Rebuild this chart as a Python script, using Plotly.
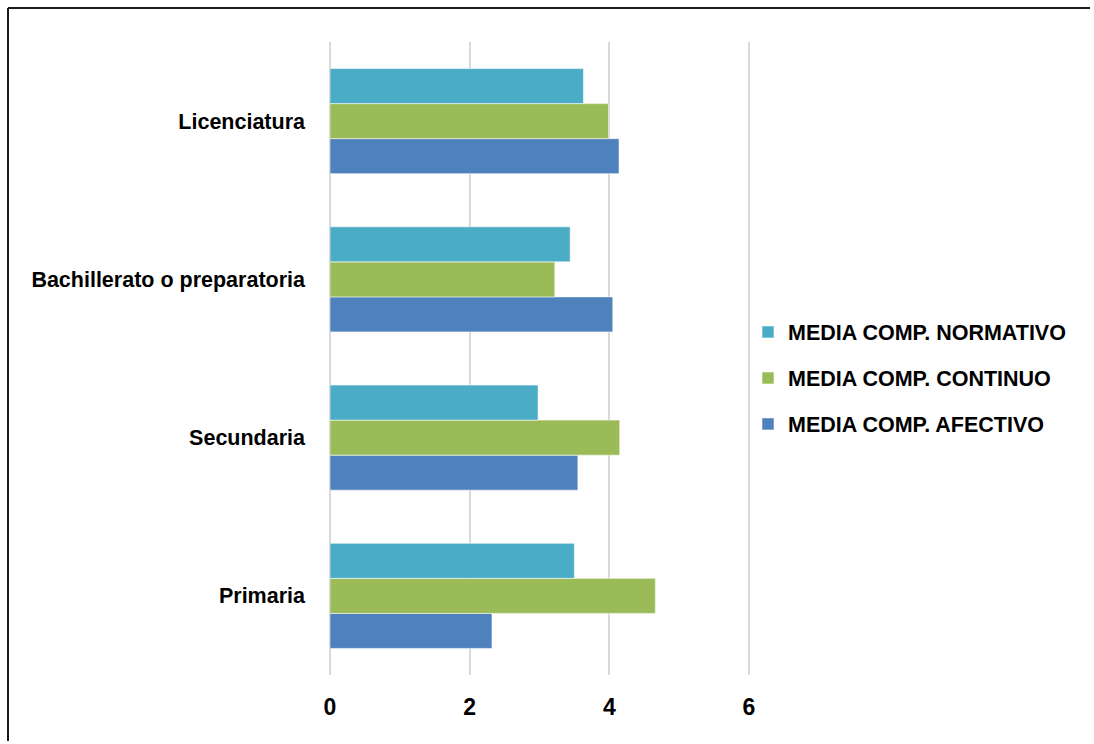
import plotly.graph_objects as go

# Education levels (bottom to top on the category axis)
niveles = ["Primaria", "Secundaria", "Bachillerato o preparatoria", "Licenciatura"]

# Mean scores of each commitment component per level
media_afectivo = [2.32, 3.55, 4.05, 4.14]
media_continuo = [4.66, 4.15, 3.22, 3.99]
media_normativo = [3.50, 2.98, 3.44, 3.63]

x_ticks = [0, 2, 4, 6]
X_MAX = 6.03  # a hair past the last tick so its gridline is kept

FONT = "Liberation Sans, Arial, sans-serif"

W, H = 1094, 744
ML, MT, MB = 330, 42, 69
PW = round(418.7 * X_MAX / 6)
MR = W - ML - PW
PH = H - MT - MB

series = [
    ("MEDIA COMP. AFECTIVO", media_afectivo, "#4F81BD", 3),
    ("MEDIA COMP. CONTINUO", media_continuo, "#9BBB59", 2),
    ("MEDIA COMP. NORMATIVO", media_normativo, "#4BACC6", 1),
]

fig = go.Figure()
for i, (name, vals, color, rank) in enumerate(series):
    fig.add_trace(go.Bar(
        y=niveles, x=vals, name=name, orientation="h",
        marker=dict(color=color, line=dict(color="rgba(255,255,255,0.55)", width=1)),
        legendgroup=f"g{i}", legendrank=rank,
    ))

# outer frame of the chart: top and left edges
frame_left = (8 - ML) / PW
frame_right = (W - 4 - ML) / PW
frame_top = (MT + PH - 8) / PH
frame_bottom = -(MB - 3) / PH
frame_line = dict(color="#1a1a1a", width=2)
fig.add_shape(type="line", xref="paper", yref="paper",
              x0=frame_left, x1=frame_right, y0=frame_top, y1=frame_top, line=frame_line)
fig.add_shape(type="line", xref="paper", yref="paper",
              x0=frame_left, x1=frame_left, y0=frame_bottom, y1=frame_top, line=frame_line)

fig.update_layout(
    width=W, height=H,
    margin=dict(l=ML, r=MR, t=MT, b=MB, autoexpand=False),
    paper_bgcolor="white", plot_bgcolor="white",
    barmode="group", bargap=0.336, bargroupgap=0,
    font=dict(family=FONT, size=22, color="black"),
    xaxis=dict(
        range=[0, X_MAX], tickvals=x_ticks, ticktext=[str(v) for v in x_ticks],
        showgrid=True, gridcolor="#D9D9D9", gridwidth=1.5,
        zeroline=True, zerolinecolor="#D9D9D9", zerolinewidth=1.5,
        showline=False, ticks="",
        ticklabelstandoff=16, automargin=False,
        tickfont=dict(family=FONT, size=23, color="black", weight="bold"),
    ),
    yaxis=dict(
        showgrid=False, zeroline=False, showline=False, ticks="",
        ticklabelstandoff=24, automargin=False,
        tickfont=dict(family=FONT, size=21.5, color="black", weight="bold"),
    ),
    legend=dict(
        x=(748 - ML) / PW, xanchor="left", y=(PH - (378 - MT)) / PH, yanchor="middle",
        traceorder="grouped", tracegroupgap=15,
        font=dict(family=FONT, size=21.5, color="black", weight="bold"),
        bgcolor="rgba(0,0,0,0)",
    ),
    showlegend=True,
)

fig.write_html("out.html")
